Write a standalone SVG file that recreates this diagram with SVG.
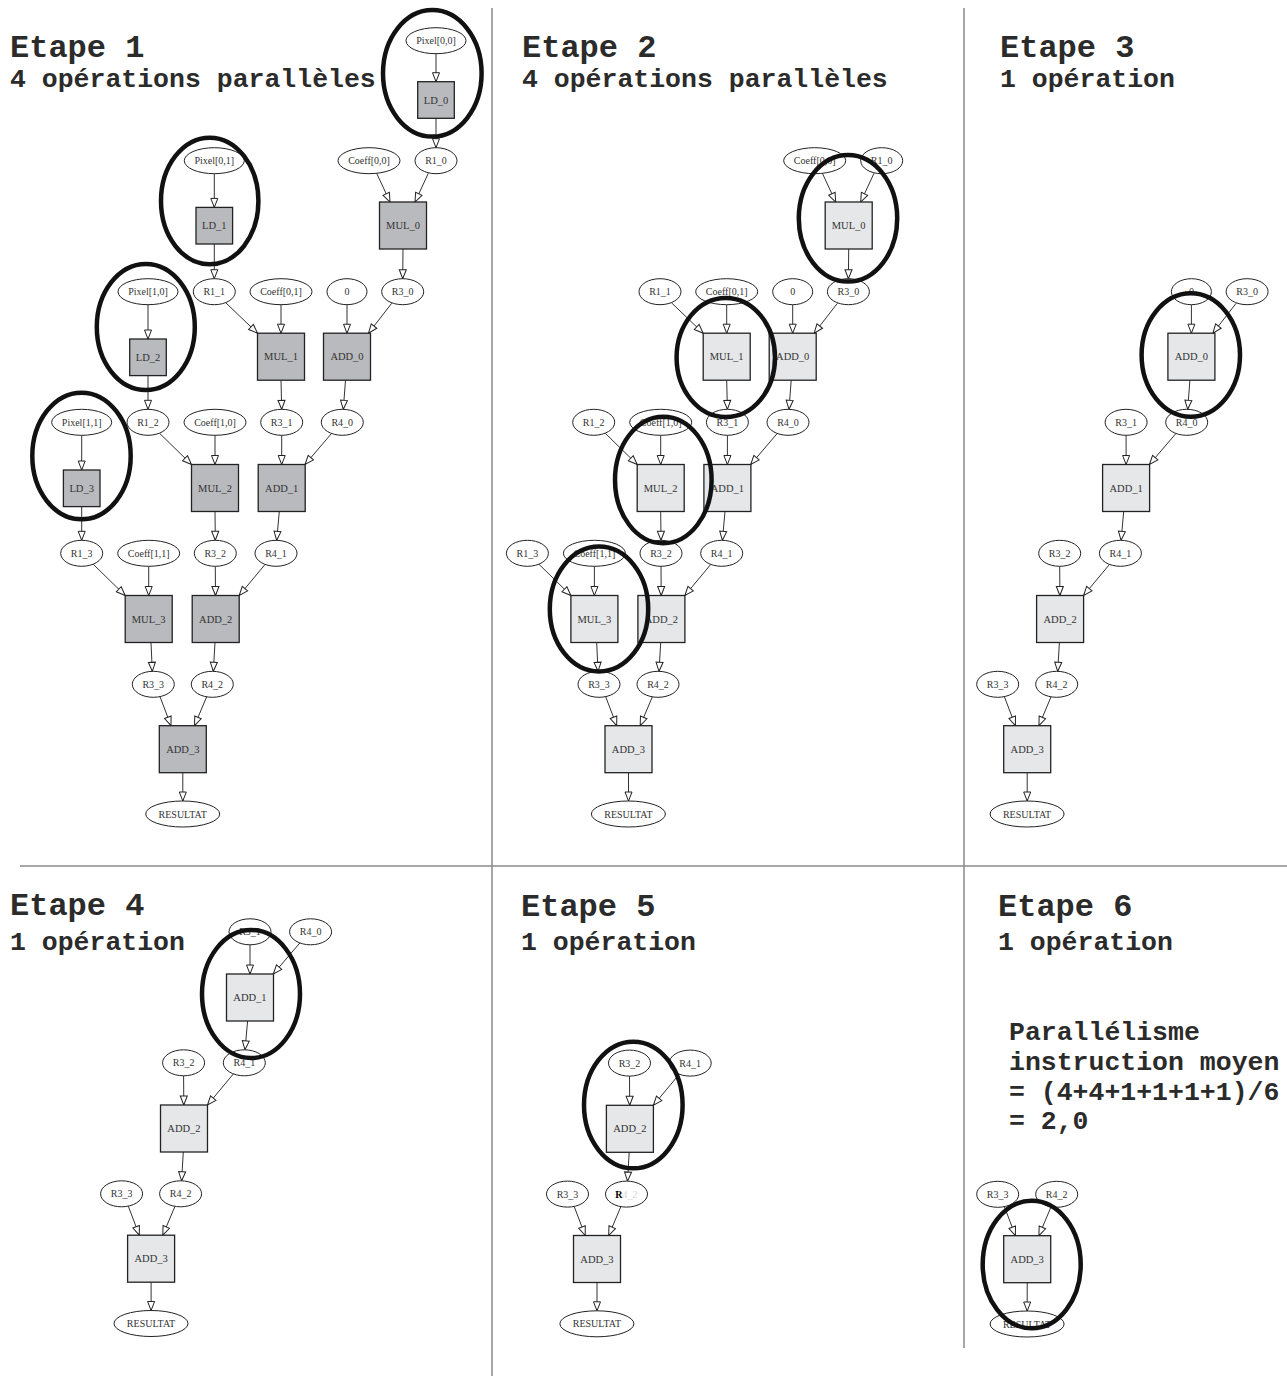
<svg xmlns="http://www.w3.org/2000/svg" width="1287" height="1383" viewBox="0 0 1287 1383">
<style>
.e{fill:#fff;stroke:#222;stroke-width:1}
.b1{fill:#b9babd;stroke:#222;stroke-width:1.3}
.b2{fill:#e6e7e9;stroke:#222;stroke-width:1.3}
.t{font-family:"Liberation Serif",serif;font-size:10px;fill:#333;text-anchor:middle}
.tb{font-size:10.5px}
.c{stroke:#333;stroke-width:1;fill:none;marker-end:url(#arr)}
.hl{fill:none;stroke:#111;stroke-width:4.5}
.ti{font-family:"Liberation Mono",monospace;font-weight:bold;font-size:32px;fill:#2b2b2b}
.sub{font-size:26.5px}
.dv{stroke:#8a8a8a;stroke-width:1.5}
</style>
<defs>
<marker id="arr" markerUnits="userSpaceOnUse" markerWidth="11" markerHeight="9" viewBox="0 0 11 9" refX="10" refY="4.5" orient="auto">
<path d="M1,1 L10,4.5 L1,8 Z" fill="#fff" stroke="#222" stroke-width="1"/>
</marker>
</defs>
<rect width="1287" height="1383" fill="#fff"/>
<g id="dividers">
<line class="dv" x1="492" y1="8" x2="492" y2="1376"/>
<line class="dv" x1="964" y1="8" x2="964" y2="1348"/>
<line class="dv" x1="20" y1="866" x2="1287" y2="866"/>
</g>
<g id="titles">
<text class="ti" x="10" y="57">Etape 1</text>
<text class="ti sub" x="10" y="87">4 opérations parallèles</text>
<text class="ti" x="522" y="57">Etape 2</text>
<text class="ti sub" x="522" y="87">4 opérations parallèles</text>
<text class="ti" x="1000" y="57">Etape 3</text>
<text class="ti sub" x="1000" y="87">1 opération</text>
<text class="ti" x="10" y="915">Etape 4</text>
<text class="ti sub" x="10" y="950">1 opération</text>
<text class="ti" x="521" y="916">Etape 5</text>
<text class="ti sub" x="521" y="950">1 opération</text>
<text class="ti" x="998" y="916">Etape 6</text>
<text class="ti sub" x="998" y="950">1 opération</text>
<text class="ti sub" x="1009" y="1040">Parallélisme</text>
<text class="ti sub" x="1009" y="1070">instruction moyen</text>
<text class="ti sub" x="1009" y="1100">= (4+4+1+1+1+1)/6</text>
<text class="ti sub" x="1009" y="1129">= 2,0</text>
</g>

<!-- PANEL 1 -->
<g id="panel1">
<g id="p1-connectors">
<line class="c" x1="436" y1="53.7" x2="436" y2="81.7"/>
<line class="c" x1="436" y1="118.3" x2="436" y2="147.7"/>
<line class="c" x1="214.3" y1="173.7" x2="214.3" y2="207.4"/>
<line class="c" x1="214.3" y1="244" x2="214.3" y2="278.7"/>
<line class="c" x1="148" y1="304.7" x2="148" y2="339"/>
<line class="c" x1="148" y1="375.6" x2="148" y2="409.3"/>
<line class="c" x1="81.7" y1="435.3" x2="81.7" y2="470"/>
<line class="c" x1="81.7" y1="506.6" x2="81.7" y2="540.3"/>
<line class="c" x1="376.7" y1="173.3" x2="390" y2="202"/>
<line class="c" x1="428.3" y1="173.3" x2="415" y2="202"/>
<line class="c" x1="403" y1="249" x2="402.7" y2="278.7"/>
<line class="c" x1="225.6" y1="302.6" x2="257.5" y2="333.2"/>
<line class="c" x1="281" y1="304.7" x2="281" y2="333.2"/>
<line class="c" x1="281" y1="380.2" x2="281.7" y2="409.3"/>
<line class="c" x1="347" y1="304.7" x2="347" y2="333.2"/>
<line class="c" x1="391.7" y1="303.3" x2="368.5" y2="333.2"/>
<line class="c" x1="345.5" y1="380.2" x2="343.3" y2="409.3"/>
<line class="c" x1="159.5" y1="433.2" x2="191.5" y2="464.5"/>
<line class="c" x1="215" y1="435.3" x2="215" y2="464.5"/>
<line class="c" x1="215" y1="511.5" x2="215.3" y2="540.3"/>
<line class="c" x1="281.7" y1="435.3" x2="281.7" y2="464.5"/>
<line class="c" x1="331.5" y1="433.5" x2="305" y2="464.5"/>
<line class="c" x1="279.3" y1="511.5" x2="276.7" y2="540.3"/>
<line class="c" x1="93.2" y1="564.2" x2="125.2" y2="595.5"/>
<line class="c" x1="148.7" y1="566.3" x2="148.7" y2="595.5"/>
<line class="c" x1="151" y1="642.5" x2="152.3" y2="671.3"/>
<line class="c" x1="215.3" y1="566.3" x2="215.5" y2="595.5"/>
<line class="c" x1="265" y1="564.5" x2="239.2" y2="595.5"/>
<line class="c" x1="215" y1="642.5" x2="213.3" y2="671.3"/>
<line class="c" x1="160" y1="696.7" x2="171" y2="725.7"/>
<line class="c" x1="206.7" y1="696.7" x2="194.5" y2="725.7"/>
<line class="c" x1="182.8" y1="772.7" x2="182.8" y2="801"/>
</g>
<g id="p1-Pixel00"><ellipse class="e" cx="436" cy="40.7" rx="30" ry="13"/><text class="t" x="436" y="44.2">Pixel[0,0]</text></g>
<g id="p1-LD_0"><rect class="b1" x="417.7" y="81.7" width="36.6" height="36.6"/><text class="t tb" x="436" y="103.7">LD_0</text></g>
<g id="p1-Coeff00"><ellipse class="e" cx="369" cy="160.7" rx="31" ry="13"/><text class="t" x="369" y="164.2">Coeff[0,0]</text></g>
<g id="p1-R1_0"><ellipse class="e" cx="436" cy="160.7" rx="21" ry="13"/><text class="t" x="436" y="164.2">R1_0</text></g>
<g id="p1-Pixel01"><ellipse class="e" cx="214.3" cy="160.7" rx="30" ry="13"/><text class="t" x="214.3" y="164.2">Pixel[0,1]</text></g>
<g id="p1-LD_1"><rect class="b1" x="196" y="207.4" width="36.6" height="36.6"/><text class="t tb" x="214.3" y="229.4">LD_1</text></g>
<g id="p1-MUL_0"><rect class="b1" x="379.5" y="202" width="47" height="47"/><text class="t tb" x="403" y="229.2">MUL_0</text></g>
<g id="p1-Pixel10"><ellipse class="e" cx="148" cy="291.7" rx="30" ry="13"/><text class="t" x="148" y="295.2">Pixel[1,0]</text></g>
<g id="p1-R1_1"><ellipse class="e" cx="214.3" cy="291.7" rx="21" ry="13"/><text class="t" x="214.3" y="295.2">R1_1</text></g>
<g id="p1-Coeff01"><ellipse class="e" cx="281" cy="291.7" rx="31" ry="13"/><text class="t" x="281" y="295.2">Coeff[0,1]</text></g>
<g id="p1-Zero"><ellipse class="e" cx="347" cy="291.7" rx="20" ry="13"/><text class="t" x="347" y="295.2">0</text></g>
<g id="p1-R3_0"><ellipse class="e" cx="402.7" cy="291.7" rx="21" ry="13"/><text class="t" x="402.7" y="295.2">R3_0</text></g>
<g id="p1-LD_2"><rect class="b1" x="129.7" y="339" width="36.6" height="36.6"/><text class="t tb" x="148" y="361">LD_2</text></g>
<g id="p1-MUL_1"><rect class="b1" x="257.5" y="333.2" width="47" height="47"/><text class="t tb" x="281" y="360.4">MUL_1</text></g>
<g id="p1-ADD_0"><rect class="b1" x="323.5" y="333.2" width="47" height="47"/><text class="t tb" x="347" y="360.4">ADD_0</text></g>
<g id="p1-Pixel11"><ellipse class="e" cx="81.7" cy="422.3" rx="30" ry="13"/><text class="t" x="81.7" y="425.8">Pixel[1,1]</text></g>
<g id="p1-R1_2"><ellipse class="e" cx="148" cy="422.3" rx="21" ry="13"/><text class="t" x="148" y="425.8">R1_2</text></g>
<g id="p1-Coeff10"><ellipse class="e" cx="215" cy="422.3" rx="31" ry="13"/><text class="t" x="215" y="425.8">Coeff[1,0]</text></g>
<g id="p1-R3_1"><ellipse class="e" cx="281.7" cy="422.3" rx="21" ry="13"/><text class="t" x="281.7" y="425.8">R3_1</text></g>
<g id="p1-R4_0"><ellipse class="e" cx="342.3" cy="422.3" rx="21" ry="13"/><text class="t" x="342.3" y="425.8">R4_0</text></g>
<g id="p1-LD_3"><rect class="b1" x="63.4" y="470" width="36.6" height="36.6"/><text class="t tb" x="81.7" y="492">LD_3</text></g>
<g id="p1-MUL_2"><rect class="b1" x="191.5" y="464.5" width="47" height="47"/><text class="t tb" x="215" y="491.7">MUL_2</text></g>
<g id="p1-ADD_1"><rect class="b1" x="258.2" y="464.5" width="47" height="47"/><text class="t tb" x="281.7" y="491.7">ADD_1</text></g>
<g id="p1-R1_3"><ellipse class="e" cx="81.7" cy="553.3" rx="21" ry="13"/><text class="t" x="81.7" y="556.8">R1_3</text></g>
<g id="p1-Coeff11"><ellipse class="e" cx="148.7" cy="553.3" rx="31" ry="13"/><text class="t" x="148.7" y="556.8">Coeff[1,1]</text></g>
<g id="p1-R3_2"><ellipse class="e" cx="215.3" cy="553.3" rx="21" ry="13"/><text class="t" x="215.3" y="556.8">R3_2</text></g>
<g id="p1-R4_1"><ellipse class="e" cx="276" cy="553.3" rx="21" ry="13"/><text class="t" x="276" y="556.8">R4_1</text></g>
<g id="p1-MUL_3"><rect class="b1" x="125.2" y="595.5" width="47" height="47"/><text class="t tb" x="148.7" y="622.7">MUL_3</text></g>
<g id="p1-ADD_2"><rect class="b1" x="192.2" y="595.5" width="47" height="47"/><text class="t tb" x="215.7" y="622.7">ADD_2</text></g>
<g id="p1-R3_3"><ellipse class="e" cx="153.3" cy="684.3" rx="21" ry="13"/><text class="t" x="153.3" y="687.8">R3_3</text></g>
<g id="p1-R4_2"><ellipse class="e" cx="212.3" cy="684.3" rx="21" ry="13"/><text class="t" x="212.3" y="687.8">R4_2</text></g>
<g id="p1-ADD_3"><rect class="b1" x="159.3" y="725.7" width="47" height="47"/><text class="t tb" x="182.8" y="752.9">ADD_3</text></g>
<g id="p1-RESULTAT"><ellipse class="e" cx="182.7" cy="814" rx="37" ry="13"/><text class="t" x="182.7" y="817.5">RESULTAT</text></g>
<g id="p1-highlights">
<ellipse class="hl" cx="432.3" cy="73.3" rx="49.3" ry="63.3"/>
<ellipse class="hl" cx="209.7" cy="201" rx="48.7" ry="63.3"/>
<ellipse class="hl" cx="145.8" cy="327" rx="49" ry="63"/>
<ellipse class="hl" cx="81.5" cy="456" rx="49.2" ry="63.3"/>
</g>
</g>

<!-- PANEL 2 -->
<g id="panel2" transform="translate(445.7,0)">
<g id="p2-connectors">
<line class="c" x1="376.7" y1="173.3" x2="390" y2="202"/>
<line class="c" x1="428.3" y1="173.3" x2="415" y2="202"/>
<line class="c" x1="403" y1="249" x2="402.7" y2="278.7"/>
<line class="c" x1="225.6" y1="302.6" x2="257.5" y2="333.2"/>
<line class="c" x1="281" y1="304.7" x2="281" y2="333.2"/>
<line class="c" x1="281" y1="380.2" x2="281.7" y2="409.3"/>
<line class="c" x1="347" y1="304.7" x2="347" y2="333.2"/>
<line class="c" x1="391.7" y1="303.3" x2="368.5" y2="333.2"/>
<line class="c" x1="345.5" y1="380.2" x2="343.3" y2="409.3"/>
<line class="c" x1="159.5" y1="433.2" x2="191.5" y2="464.5"/>
<line class="c" x1="215" y1="435.3" x2="215" y2="464.5"/>
<line class="c" x1="215" y1="511.5" x2="215.3" y2="540.3"/>
<line class="c" x1="281.7" y1="435.3" x2="281.7" y2="464.5"/>
<line class="c" x1="331.5" y1="433.5" x2="305" y2="464.5"/>
<line class="c" x1="279.3" y1="511.5" x2="276.7" y2="540.3"/>
<line class="c" x1="93.2" y1="564.2" x2="125.2" y2="595.5"/>
<line class="c" x1="148.7" y1="566.3" x2="148.7" y2="595.5"/>
<line class="c" x1="151" y1="642.5" x2="152.3" y2="671.3"/>
<line class="c" x1="215.3" y1="566.3" x2="215.5" y2="595.5"/>
<line class="c" x1="265" y1="564.5" x2="239.2" y2="595.5"/>
<line class="c" x1="215" y1="642.5" x2="213.3" y2="671.3"/>
<line class="c" x1="160" y1="696.7" x2="171" y2="725.7"/>
<line class="c" x1="206.7" y1="696.7" x2="194.5" y2="725.7"/>
<line class="c" x1="182.8" y1="772.7" x2="182.8" y2="801"/>
</g>
<g id="p2-Coeff00"><ellipse class="e" cx="369" cy="160.7" rx="31" ry="13"/><text class="t" x="369" y="164.2">Coeff[0,0]</text></g>
<g id="p2-R1_0"><ellipse class="e" cx="436" cy="160.7" rx="21" ry="13"/><text class="t" x="436" y="164.2">R1_0</text></g>
<g id="p2-MUL_0"><rect class="b2" x="379.5" y="202" width="47" height="47"/><text class="t tb" x="403" y="229.2">MUL_0</text></g>
<g id="p2-R1_1"><ellipse class="e" cx="214.3" cy="291.7" rx="21" ry="13"/><text class="t" x="214.3" y="295.2">R1_1</text></g>
<g id="p2-Coeff01"><ellipse class="e" cx="281" cy="291.7" rx="31" ry="13"/><text class="t" x="281" y="295.2">Coeff[0,1]</text></g>
<g id="p2-Zero"><ellipse class="e" cx="347" cy="291.7" rx="20" ry="13"/><text class="t" x="347" y="295.2">0</text></g>
<g id="p2-R3_0"><ellipse class="e" cx="402.7" cy="291.7" rx="21" ry="13"/><text class="t" x="402.7" y="295.2">R3_0</text></g>
<g id="p2-MUL_1"><rect class="b2" x="257.5" y="333.2" width="47" height="47"/><text class="t tb" x="281" y="360.4">MUL_1</text></g>
<g id="p2-ADD_0"><rect class="b2" x="323.5" y="333.2" width="47" height="47"/><text class="t tb" x="347" y="360.4">ADD_0</text></g>
<g id="p2-R1_2"><ellipse class="e" cx="148" cy="422.3" rx="21" ry="13"/><text class="t" x="148" y="425.8">R1_2</text></g>
<g id="p2-Coeff10"><ellipse class="e" cx="215" cy="422.3" rx="31" ry="13"/><text class="t" x="215" y="425.8">Coeff[1,0]</text></g>
<g id="p2-R3_1"><ellipse class="e" cx="281.7" cy="422.3" rx="21" ry="13"/><text class="t" x="281.7" y="425.8">R3_1</text></g>
<g id="p2-R4_0"><ellipse class="e" cx="342.3" cy="422.3" rx="21" ry="13"/><text class="t" x="342.3" y="425.8">R4_0</text></g>
<g id="p2-MUL_2"><rect class="b2" x="191.5" y="464.5" width="47" height="47"/><text class="t tb" x="215" y="491.7">MUL_2</text></g>
<g id="p2-ADD_1"><rect class="b2" x="258.2" y="464.5" width="47" height="47"/><text class="t tb" x="281.7" y="491.7">ADD_1</text></g>
<g id="p2-R1_3"><ellipse class="e" cx="81.7" cy="553.3" rx="21" ry="13"/><text class="t" x="81.7" y="556.8">R1_3</text></g>
<g id="p2-Coeff11"><ellipse class="e" cx="148.7" cy="553.3" rx="31" ry="13"/><text class="t" x="148.7" y="556.8">Coeff[1,1]</text></g>
<g id="p2-R3_2"><ellipse class="e" cx="215.3" cy="553.3" rx="21" ry="13"/><text class="t" x="215.3" y="556.8">R3_2</text></g>
<g id="p2-R4_1"><ellipse class="e" cx="276" cy="553.3" rx="21" ry="13"/><text class="t" x="276" y="556.8">R4_1</text></g>
<g id="p2-MUL_3"><rect class="b2" x="125.2" y="595.5" width="47" height="47"/><text class="t tb" x="148.7" y="622.7">MUL_3</text></g>
<g id="p2-ADD_2"><rect class="b2" x="192.2" y="595.5" width="47" height="47"/><text class="t tb" x="215.7" y="622.7">ADD_2</text></g>
<g id="p2-R3_3"><ellipse class="e" cx="153.3" cy="684.3" rx="21" ry="13"/><text class="t" x="153.3" y="687.8">R3_3</text></g>
<g id="p2-R4_2"><ellipse class="e" cx="212.3" cy="684.3" rx="21" ry="13"/><text class="t" x="212.3" y="687.8">R4_2</text></g>
<g id="p2-ADD_3"><rect class="b2" x="159.3" y="725.7" width="47" height="47"/><text class="t tb" x="182.8" y="752.9">ADD_3</text></g>
<g id="p2-RESULTAT"><ellipse class="e" cx="182.7" cy="814" rx="37" ry="13"/><text class="t" x="182.7" y="817.5">RESULTAT</text></g>
<g id="p2-highlights">
<ellipse class="hl" cx="402.3" cy="218.3" rx="49.2" ry="63.3"/>
<ellipse class="hl" cx="280.1" cy="357.5" rx="49.2" ry="59.5"/>
<ellipse class="hl" cx="217.6" cy="480" rx="48.3" ry="63.3"/>
<ellipse class="hl" cx="153.3" cy="609" rx="49.2" ry="62.5"/>
</g>
</g>

<!-- PANEL 3 -->
<g id="panel3" transform="translate(844.4,0)">
<g id="p3-connectors">
<line class="c" x1="347" y1="304.7" x2="347" y2="333.2"/>
<line class="c" x1="391.7" y1="303.3" x2="368.5" y2="333.2"/>
<line class="c" x1="345.5" y1="380.2" x2="343.3" y2="409.3"/>
<line class="c" x1="281.7" y1="435.3" x2="281.7" y2="464.5"/>
<line class="c" x1="331.5" y1="433.5" x2="305" y2="464.5"/>
<line class="c" x1="279.3" y1="511.5" x2="276.7" y2="540.3"/>
<line class="c" x1="215.3" y1="566.3" x2="215.5" y2="595.5"/>
<line class="c" x1="265" y1="564.5" x2="239.2" y2="595.5"/>
<line class="c" x1="215" y1="642.5" x2="213.3" y2="671.3"/>
<line class="c" x1="160" y1="696.7" x2="171" y2="725.7"/>
<line class="c" x1="206.7" y1="696.7" x2="194.5" y2="725.7"/>
<line class="c" x1="182.8" y1="772.7" x2="182.8" y2="801"/>
</g>
<g id="p3-Zero"><ellipse class="e" cx="347" cy="291.7" rx="20" ry="13"/><text class="t" x="347" y="295.2">0</text></g>
<g id="p3-R3_0"><ellipse class="e" cx="402.7" cy="291.7" rx="21" ry="13"/><text class="t" x="402.7" y="295.2">R3_0</text></g>
<g id="p3-ADD_0"><rect class="b2" x="323.5" y="333.2" width="47" height="47"/><text class="t tb" x="347" y="360.4">ADD_0</text></g>
<g id="p3-R3_1"><ellipse class="e" cx="281.7" cy="422.3" rx="21" ry="13"/><text class="t" x="281.7" y="425.8">R3_1</text></g>
<g id="p3-R4_0"><ellipse class="e" cx="342.3" cy="422.3" rx="21" ry="13"/><text class="t" x="342.3" y="425.8">R4_0</text></g>
<g id="p3-ADD_1"><rect class="b2" x="258.2" y="464.5" width="47" height="47"/><text class="t tb" x="281.7" y="491.7">ADD_1</text></g>
<g id="p3-R3_2"><ellipse class="e" cx="215.3" cy="553.3" rx="21" ry="13"/><text class="t" x="215.3" y="556.8">R3_2</text></g>
<g id="p3-R4_1"><ellipse class="e" cx="276" cy="553.3" rx="21" ry="13"/><text class="t" x="276" y="556.8">R4_1</text></g>
<g id="p3-ADD_2"><rect class="b2" x="192.2" y="595.5" width="47" height="47"/><text class="t tb" x="215.7" y="622.7">ADD_2</text></g>
<g id="p3-R3_3"><ellipse class="e" cx="153.3" cy="684.3" rx="21" ry="13"/><text class="t" x="153.3" y="687.8">R3_3</text></g>
<g id="p3-R4_2"><ellipse class="e" cx="212.3" cy="684.3" rx="21" ry="13"/><text class="t" x="212.3" y="687.8">R4_2</text></g>
<g id="p3-ADD_3"><rect class="b2" x="159.3" y="725.7" width="47" height="47"/><text class="t tb" x="182.8" y="752.9">ADD_3</text></g>
<g id="p3-RESULTAT"><ellipse class="e" cx="182.7" cy="814" rx="37" ry="13"/><text class="t" x="182.7" y="817.5">RESULTAT</text></g>
<g id="p3-highlights">
<ellipse class="hl" cx="346.4" cy="355" rx="49.2" ry="61.7"/>
</g>
</g>

<!-- PANEL 4 -->
<g id="panel4" transform="translate(-31.7,509.5)">
<g id="p4-connectors">
<line class="c" x1="281.7" y1="435.3" x2="281.7" y2="464.5"/>
<line class="c" x1="331.5" y1="433.5" x2="305" y2="464.5"/>
<line class="c" x1="279.3" y1="511.5" x2="276.7" y2="540.3"/>
<line class="c" x1="215.3" y1="566.3" x2="215.5" y2="595.5"/>
<line class="c" x1="265" y1="564.5" x2="239.2" y2="595.5"/>
<line class="c" x1="215" y1="642.5" x2="213.3" y2="671.3"/>
<line class="c" x1="160" y1="696.7" x2="171" y2="725.7"/>
<line class="c" x1="206.7" y1="696.7" x2="194.5" y2="725.7"/>
<line class="c" x1="182.8" y1="772.7" x2="182.8" y2="801"/>
</g>
<g id="p4-R3_1"><ellipse class="e" cx="281.7" cy="422.3" rx="21" ry="13"/><text class="t" x="281.7" y="425.8">R3_1</text></g>
<g id="p4-R4_0"><ellipse class="e" cx="342.3" cy="422.3" rx="21" ry="13"/><text class="t" x="342.3" y="425.8">R4_0</text></g>
<g id="p4-ADD_1"><rect class="b2" x="258.2" y="464.5" width="47" height="47"/><text class="t tb" x="281.7" y="491.7">ADD_1</text></g>
<g id="p4-R3_2"><ellipse class="e" cx="215.3" cy="553.3" rx="21" ry="13"/><text class="t" x="215.3" y="556.8">R3_2</text></g>
<g id="p4-R4_1"><ellipse class="e" cx="276" cy="553.3" rx="21" ry="13"/><text class="t" x="276" y="556.8">R4_1</text></g>
<g id="p4-ADD_2"><rect class="b2" x="192.2" y="595.5" width="47" height="47"/><text class="t tb" x="215.7" y="622.7">ADD_2</text></g>
<g id="p4-R3_3"><ellipse class="e" cx="153.3" cy="684.3" rx="21" ry="13"/><text class="t" x="153.3" y="687.8">R3_3</text></g>
<g id="p4-R4_2"><ellipse class="e" cx="212.3" cy="684.3" rx="21" ry="13"/><text class="t" x="212.3" y="687.8">R4_2</text></g>
<g id="p4-ADD_3"><rect class="b2" x="159.3" y="725.7" width="47" height="47"/><text class="t tb" x="182.8" y="752.9">ADD_3</text></g>
<g id="p4-RESULTAT"><ellipse class="e" cx="182.7" cy="814" rx="37" ry="13"/><text class="t" x="182.7" y="817.5">RESULTAT</text></g>
<g id="p4-highlights">
<ellipse class="hl" cx="282.7" cy="484.5" rx="49" ry="64"/>
</g>
</g>

<!-- PANEL 5 -->
<g id="panel5" transform="translate(414.2,509.8)">
<g id="p5-connectors">
<line class="c" x1="215.3" y1="566.3" x2="215.5" y2="595.5"/>
<line class="c" x1="265" y1="564.5" x2="239.2" y2="595.5"/>
<line class="c" x1="215" y1="642.5" x2="213.3" y2="671.3"/>
<line class="c" x1="160" y1="696.7" x2="171" y2="725.7"/>
<line class="c" x1="206.7" y1="696.7" x2="194.5" y2="725.7"/>
<line class="c" x1="182.8" y1="772.7" x2="182.8" y2="801"/>
</g>
<g id="p5-R3_2"><ellipse class="e" cx="215.3" cy="553.3" rx="21" ry="13"/><text class="t" x="215.3" y="556.8">R3_2</text></g>
<g id="p5-R4_1"><ellipse class="e" cx="276" cy="553.3" rx="21" ry="13"/><text class="t" x="276" y="556.8">R4_1</text></g>
<g id="p5-ADD_2"><rect class="b2" x="192.2" y="595.5" width="47" height="47"/><text class="t tb" x="215.7" y="622.7">ADD_2</text></g>
<g id="p5-R3_3"><ellipse class="e" cx="153.3" cy="684.3" rx="21" ry="13"/><text class="t" x="153.3" y="687.8">R3_3</text></g>
<g id="p5-R4_2"><ellipse class="e" cx="212.3" cy="684.3" rx="21" ry="13"/><text class="t" x="212.3" y="687.8"><tspan fill="#000" font-weight="bold">R</tspan><tspan fill="#d8d8d8">4_2</tspan></text></g>
<g id="p5-ADD_3"><rect class="b2" x="159.3" y="725.7" width="47" height="47"/><text class="t tb" x="182.8" y="752.9">ADD_3</text></g>
<g id="p5-RESULTAT"><ellipse class="e" cx="182.7" cy="814" rx="37" ry="13"/><text class="t" x="182.7" y="817.5">RESULTAT</text></g>
<g id="p5-highlights">
<ellipse class="hl" cx="219.1" cy="595.2" rx="49.3" ry="63.3"/>
</g>
</g>

<!-- PANEL 6 -->
<g id="panel6" transform="translate(844.4,510)">
<g id="p6-connectors">
<line class="c" x1="160" y1="696.7" x2="171" y2="725.7"/>
<line class="c" x1="206.7" y1="696.7" x2="194.5" y2="725.7"/>
<line class="c" x1="182.8" y1="772.7" x2="182.8" y2="801"/>
</g>
<g id="p6-R3_3"><ellipse class="e" cx="153.3" cy="684.3" rx="21" ry="13"/><text class="t" x="153.3" y="687.8">R3_3</text></g>
<g id="p6-R4_2"><ellipse class="e" cx="212.3" cy="684.3" rx="21" ry="13"/><text class="t" x="212.3" y="687.8">R4_2</text></g>
<g id="p6-ADD_3"><rect class="b2" x="159.3" y="725.7" width="47" height="47"/><text class="t tb" x="182.8" y="752.9">ADD_3</text></g>
<g id="p6-RESULTAT"><ellipse class="e" cx="182.7" cy="814" rx="37" ry="13"/><text class="t" x="182.7" y="817.5">RESULTAT</text></g>
<g id="p6-highlights">
<ellipse class="hl" cx="187.3" cy="754.5" rx="49" ry="63.8"/>
</g>
</g>
</svg>
